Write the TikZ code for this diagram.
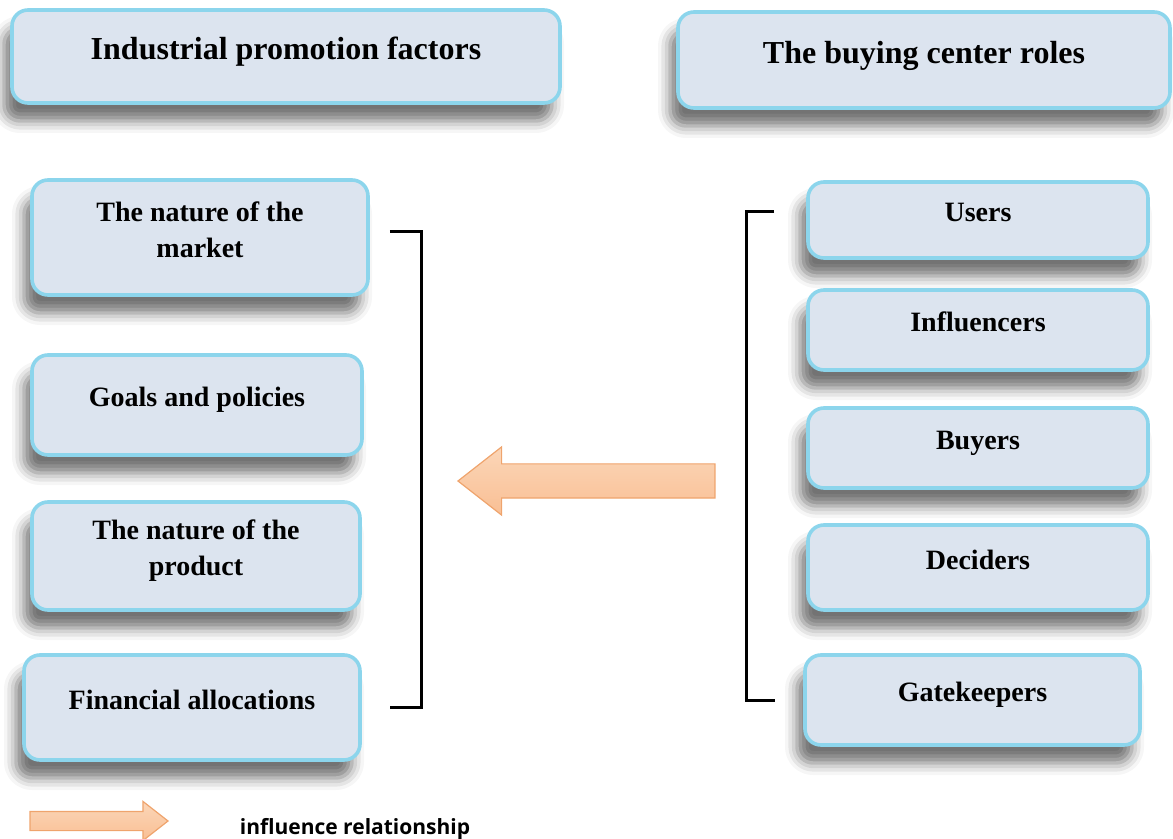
\documentclass[tikz,border=0pt]{standalone}
\usepackage{fontspec}
\setmainfont{Liberation Serif}
\newfontfamily\legendfont{Open Sans}
\usetikzlibrary{shapes.arrows,shadows.blur}
\definecolor{boxfill}{HTML}{DCE4EF}
\definecolor{boxline}{HTML}{8CD5EC}
\definecolor{arrowtop}{HTML}{FBD6B8}
\definecolor{arrowbot}{HTML}{F9BF94}
\definecolor{arrowline}{HTML}{EFA46D}

\begin{document}
\begin{tikzpicture}[x=0.5pt,y=-0.5pt,
    factor/.style={draw=boxline, fill=boxfill, line width=1.8pt, rounded corners=8pt, align=center, text depth=8pt,
        font=\bfseries\fontsize{14}{18}\selectfont,
        blur shadow={shadow xshift=-4pt, shadow yshift=-9pt, shadow blur radius=6pt, shadow opacity=55}},
    heading/.style={factor, font=\bfseries\fontsize{16}{19}\selectfont},
    role/.style={factor, minimum width=170pt},
    bracket/.style={line width=1.5pt},
    influence/.style={single arrow, single arrow tip angle=76, top color=arrowtop, bottom color=arrowbot, draw=arrowline, line width=0.6pt, anchor=tip}]
    \useasboundingbox (0,0) rectangle (1173,839);

    \node[heading, minimum width=274pt, minimum height=46.5pt] (promo) at (286,56.5) {Industrial promotion factors};
    \node[heading, minimum width=246pt, minimum height=48pt] (roles) at (924,60) {The buying center roles};

    \node[factor, minimum width=168pt, minimum height=57.5pt] (market) at (200,237.5) {The nature of the\\market};
    \node[factor, minimum width=165pt, minimum height=50pt] (goals) at (197,405) {Goals and policies};
    \node[factor, minimum width=164pt, minimum height=54pt] (product) at (196,556) {The nature of the\\product};
    \node[factor, minimum width=168pt, minimum height=52.5pt] (finance) at (192,707.5) {Financial allocations};

    \node[role, minimum height=38pt] (users) at (978,220) {Users};
    \node[role, minimum height=40pt] (influencers) at (978,330) {Influencers};
    \node[role, minimum height=40pt] (buyers) at (978,448) {Buyers};
    \node[role, minimum height=42.5pt] (deciders) at (978,567.5) {Deciders};
    \node[role, minimum width=167.5pt, minimum height=45pt] (gatekeepers) at (972.5,700) {Gatekeepers};

    \draw[bracket] ([xshift=10pt,yshift=3pt]market.east) -- ++(16pt,0) |- ([xshift=14pt]finance.east);
    \draw[bracket] ([xshift=-16pt,yshift=4pt]users.west) -- ++(-14pt,0) |- ([xshift=-14pt]gatekeepers.west);

    \node[influence, shape border rotate=180, inner sep=8.25pt, single arrow head extend=8.5pt, minimum height=128.5pt] (bigarrow) at (457,481) {};

    \node[influence, inner sep=4.5pt, single arrow head extend=5pt, minimum height=69pt] (legendarrow) at (169,821) {};
    \node[font=\legendfont\bfseries\fontsize{10.5}{12}\selectfont, anchor=base] (legendtext) at (355,834) {influence relationship};
\end{tikzpicture}
\end{document}
